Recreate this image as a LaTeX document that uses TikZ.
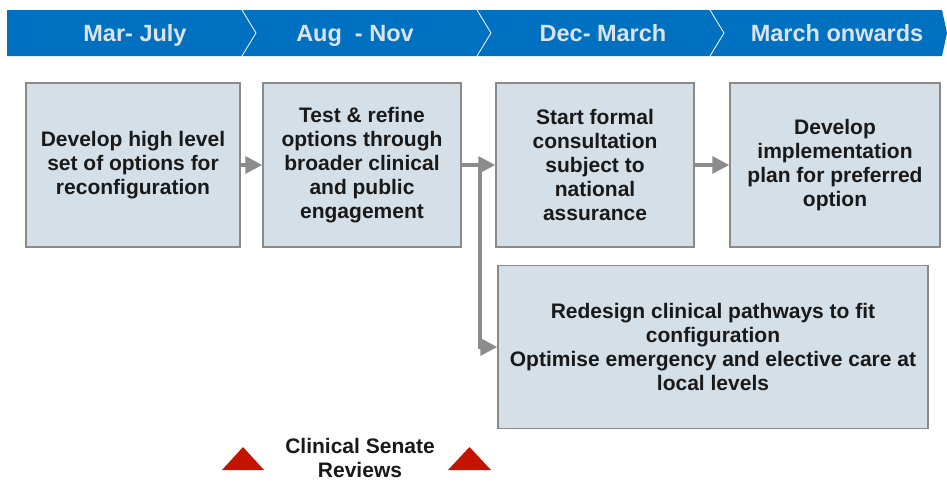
\documentclass[tikz,border=0pt]{standalone}
\usepackage{fontspec}
\setmainfont{Liberation Sans}
\usetikzlibrary{arrows.meta,positioning}

\definecolor{bannerblue}{HTML}{0070C0}
\definecolor{bannertext}{HTML}{DCE3EC}
\definecolor{boxfill}{HTML}{D5DFE7}
\definecolor{boxline}{HTML}{8A8A8A}
\definecolor{flowgray}{HTML}{8C8C8C}
\definecolor{senatered}{HTML}{C41400}

\tikzset{
  phase/.style={font=\bfseries\fontsize{23.5}{26}\selectfont, text=bannertext, anchor=base},
  stage/.style={draw=boxline, line width=1.5pt, fill=boxfill, align=center,
    minimum height=164pt, inner sep=2pt, text=black!90,
    font=\bfseries\fontsize{21}{24}\selectfont},
  flow/.style={draw=flowgray, line width=3.5pt, -{Triangle[length=17pt,width=17pt]}},
}

\begin{document}
\begin{tikzpicture}[x=1pt,y=-1pt]
    \useasboundingbox (0,0) rectangle (947,482);

    % timeline banner
    \fill[bannerblue] (7,10) -- (942,10) -- (947,33) -- (942,56) -- (7,56) -- cycle;
    \foreach \x in {242,477,710}
      \draw[white, line width=0.8pt] (\x,10) -- (\x+14,33) -- (\x,56);

    \node[phase] (mar)   at (135,41) {Mar- July};
    \node[phase] (aug)   at (355,41) {Aug~ - Nov};
    \node[phase] (dec)   at (603,41) {Dec- March};
    \node[phase] (march) at (837,41) {March onwards};

    % stages
    \node[stage, minimum width=214pt] (develop) at (133,165)
    {Develop high level\\ set of options for\\ reconfiguration};
    \node[stage, minimum width=198pt, right=21.5pt of develop] (refine)
    {Test \& refine\\ options through\\ broader clinical\\ and public\\ engagement};
    \node[stage, minimum width=198pt, right=33.5pt of refine] (consult)
    {Start formal\\ consultation\\ subject to\\ national\\ assurance};
    \node[stage, minimum width=210pt, right=34.5pt of consult] (implement)
    {Develop\\ implementation\\ plan for preferred\\ option};
    \node[stage, minimum width=430pt, minimum height=163pt,
      below=17pt of consult.south west, anchor=north west, xshift=2pt] (redesign)
    {Redesign clinical pathways to fit\\ configuration\\
     Optimise emergency and elective care at\\ local levels};

    \coordinate[right=18pt of refine.east] (branch);

    \draw[flow] (develop) -- (refine);
    \draw[flow] (refine) -- (consult);
    \draw[flow] (consult) -- (implement);
    \draw[flow] (branch) |- (redesign.west);

    % senate reviews
    \fill[senatered] (222,470) -- (243,447) -- (264,470) -- cycle;
    \fill[senatered] (448,470) -- (469.5,447) -- (491,470) -- cycle;
    \node[align=center, text=black!90, font=\bfseries\fontsize{21}{24}\selectfont]
      (senate) at (360,458) {Clinical Senate\\ Reviews};
  \end{tikzpicture}
\end{document}
